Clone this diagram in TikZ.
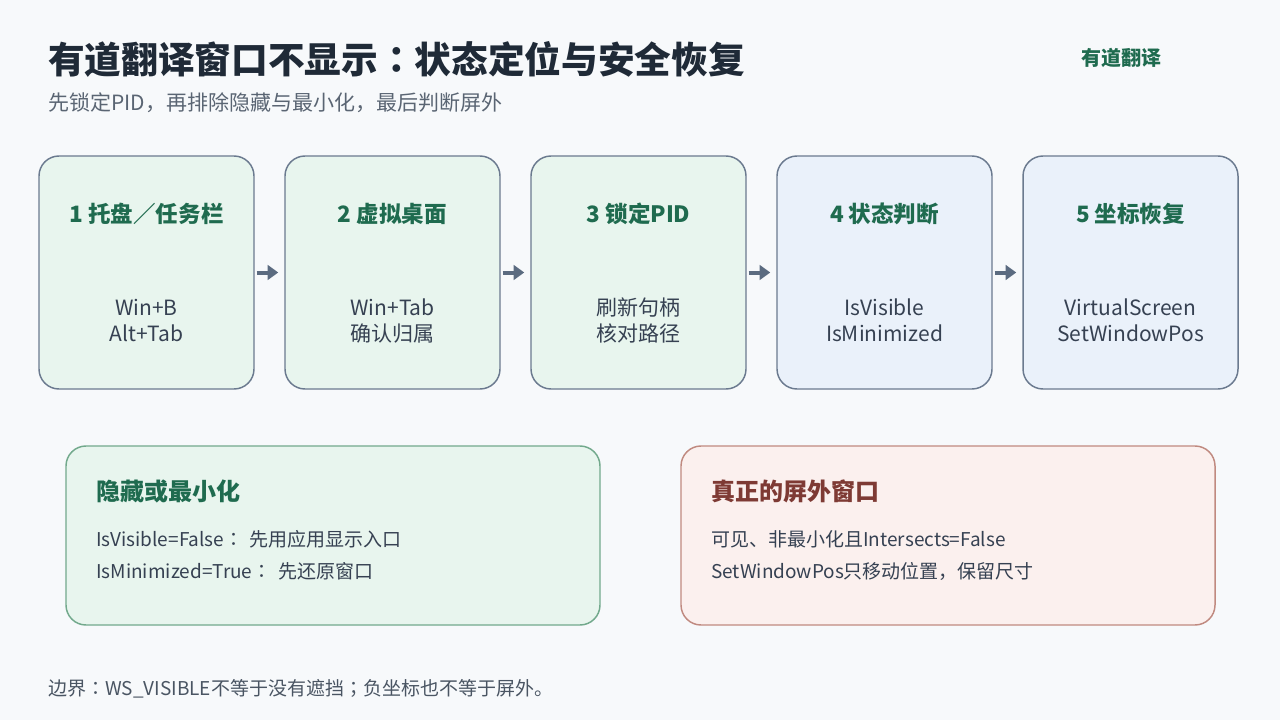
\documentclass[tikz,border=0pt]{standalone}
\usepackage{fontspec}
\setmainfont{Noto Sans CJK SC}
\newfontfamily\jpf{Noto Sans CJK JP}
\newcommand{\fc}{{\jpf ：}}
\newcommand{\fcw}{{\jpf ：}\kern5pt}
\newcommand{\fsc}{{\jpf ；}}
\usetikzlibrary{arrows.meta}
\definecolor{bgc}{HTML}{F7F9FB}
\definecolor{titlec}{HTML}{1F2A37}
\definecolor{subc}{HTML}{5A6573}
\definecolor{greenc}{HTML}{1F6B4F}
\definecolor{bodyc}{HTML}{364152}
\definecolor{gfill}{HTML}{E8F5EE}
\definecolor{bfill}{HTML}{EAF1FA}
\definecolor{boxline}{HTML}{6B7A8F}
\definecolor{arrc}{HTML}{5B6B80}
\definecolor{gline}{HTML}{72A98C}
\definecolor{rfill}{HTML}{FBF0EE}
\definecolor{rline}{HTML}{C08A80}
\definecolor{redc}{HTML}{7E3A34}
\definecolor{footc}{HTML}{4A5563}
\tikzset{
  stepbox/.style={draw=boxline, line width=1.1pt, rounded corners=15pt,
    minimum width=161.25pt, minimum height=174.75pt, inner sep=0pt},
  notebox/.style={line width=1.1pt, rounded corners=15pt,
    minimum width=400.5pt, minimum height=134.25pt, inner sep=0pt},
  head/.style={font=\bfseries\fontsize{16.9}{20}\selectfont, text=greenc, anchor=base, inner sep=0pt},
  body/.style={font=\fontsize{15.75}{19}\selectfont, text=bodyc, anchor=base, inner sep=0pt},
  nhead/.style={font=\bfseries\fontsize{18}{22}\selectfont, anchor=base west, inner sep=0pt},
  nbody/.style={font=\fontsize{14.25}{18}\selectfont, text=bodyc, anchor=base west, inner sep=0pt},
  arr/.style={draw=arrc, line width=3pt, -{Triangle[length=8pt,width=11pt]},
    shorten <=1.5pt, shorten >=4.5pt},
}
\begin{document}
\begin{tikzpicture}[x=0.75pt, y=-0.75pt]
\fill[bgc] (0,0) rectangle (1280,720);
\useasboundingbox (0,0) rectangle (1280,720);
% title
\node[font=\bfseries\fontsize{27.5}{32}\selectfont, text=titlec, anchor=base west, inner sep=0pt] (title) at (48,74) {有道翻译窗口不显示\fc 状态定位与安全恢复};
\node[font=\fontsize{15.75}{19}\selectfont, text=subc, anchor=base west, inner sep=0pt] (subtitle) at (48,111) {先锁定PID，再排除隐藏与最小化，最后判断屏外};
\node[font=\bfseries\fontsize{15}{18}\selectfont, text=greenc, anchor=base west, inner sep=0pt] (brand) at (1081,66) {有道翻译};
% step boxes
\node[stepbox, fill=gfill] (b1) at (146.5,272.5) {};
\node[stepbox, fill=gfill] (b2) at (392.5,272.5) {};
\node[stepbox, fill=gfill] (b3) at (638.5,272.5) {};
\node[stepbox, fill=bfill] (b4) at (884.5,272.5) {};
\node[stepbox, fill=bfill] (b5) at (1130.5,272.5) {};
\foreach \a/\b in {b1/b2,b2/b3,b3/b4,b4/b5} \draw[arr] (\a) -- (\b);
% headings
\node[head] (h1) at (146.5,223) {1 托盘／任务栏};
\node[head] (h2) at (392.5,223) {2 虚拟桌面};
\node[head] (h3) at (638.5,223) {3 锁定PID};
\node[head] (h4) at (884.5,223) {4 状态判断};
\node[head] (h5) at (1130.5,223) {5 坐标恢复};
% bodies
\node[body] (t1a) at (146.5,315) {Win+B};
\node[body] (t1b) at (146.5,341) {Alt+Tab};
\node[body] (t2a) at (392.5,315) {Win+Tab};
\node[body] (t2b) at (392.5,341) {确认归属};
\node[body] (t3a) at (638.5,315) {刷新句柄};
\node[body] (t3b) at (638.5,341) {核对路径};
\node[body] (t4a) at (884.5,315) {IsVisible};
\node[body] (t4b) at (884.5,341) {IsMinimized};
\node[body] (t5a) at (1130.5,315) {VirtualScreen};
\node[body] (t5b) at (1130.5,341) {SetWindowPos};
% note boxes
\node[notebox, draw=gline, fill=gfill] (n1) at (333,535.5) {};
\node[notebox, draw=rline, fill=rfill] (n2) at (948,535.5) {};
\node[nhead, text=greenc] (n1h) at (96,500) {隐藏或最小化};
\node[nbody] (n1a) at (96,546) {IsVisible=False\fcw 先用应用显示入口};
\node[nbody] (n1b) at (96,578) {IsMinimized=True\fcw 先还原窗口};
\node[nhead, text=redc] (n2h) at (711,500) {真正的屏外窗口};
\node[nbody] (n2a) at (711,546) {可见、非最小化且Intersects=False};
\node[nbody] (n2b) at (711,578) {SetWindowPos只移动位置，保留尺寸};
% footer
\node[font=\fontsize{14.25}{18}\selectfont, text=footc, anchor=base west, inner sep=0pt] (foot) at (48,695) {边界\fc WS\_VISIBLE不等于没有遮挡\fsc 负坐标也不等于屏外。};
\end{tikzpicture}
\end{document}
